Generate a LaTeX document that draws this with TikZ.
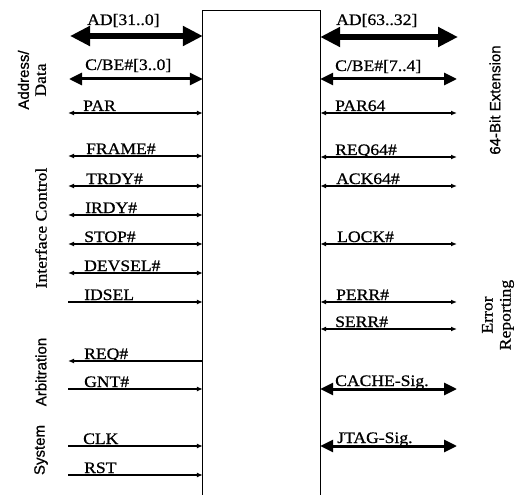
\documentclass[tikz,border=0pt]{standalone}
\usepackage{fontspec}
\setmainfont{Liberation Serif}
\newfontfamily\sigfont[FakeStretch=1.1,FakeBold=0.8]{Liberation Serif}
\newfontfamily\grpsans[FakeBold=0.8]{Liberation Sans}
\usetikzlibrary{arrows.meta}
\begin{document}
\begin{tikzpicture}[x=1pt,y=-1pt,
  smalltip/.tip={Latex[length=6pt,width=5pt]},
  midtip/.tip={Triangle[length=13pt,width=12pt]},
  bigtip/.tip={Triangle[length=20pt,width=19pt]},
  sigboth/.style={line width=1.4pt,{smalltip}-{smalltip}},
  sigone/.style={line width=1.4pt,-{smalltip}},
  midboth/.style={line width=3pt,{midtip}-{midtip}},
  bigboth/.style={line width=5.5pt,{bigtip}-{bigtip}},
  lbl/.style={anchor=base west,inner sep=0pt,font=\sigfont\fontsize{16}{16}\selectfont},
  grp/.style={rotate=90,align=center,inner sep=0pt,font=\fontsize{16}{17}\selectfont},
  grpserif/.style={grp,font=\sigfont\fontsize{16}{18}\selectfont},
  grpsans/.style={grp,font=\grpsans\fontsize{15}{17}\selectfont},
  chip/.style={line width=1.2pt}
]
\useasboundingbox (0,0) rectangle (531,495);
% central block
\node[minimum width=117pt,minimum height=484pt,inner sep=0pt] (box) at (261.5,253) {};
\draw[chip] (box.south west) -- (box.north west) -- (box.north east) -- (box.south east);

% ---------- left side ----------
\coordinate (lAD) at (70,36);
\coordinate (lCBE) at (69,79);
\coordinate (lPAR) at (68,113);
\coordinate (lFRAME) at (68,156);
\coordinate (lTRDY) at (68,186);
\coordinate (lIRDY) at (68,215);
\coordinate (lSTOP) at (68,244);
\coordinate (lDEVSEL) at (68,273);
\coordinate (lIDSEL) at (68,302);
\coordinate (lREQ) at (68,361);
\coordinate (lGNT) at (68,389);
\coordinate (lCLK) at (68,446);
\coordinate (lRST) at (68,475);

\draw[bigboth] (lAD) -- (lAD -| box.west);
\draw[midboth] (lCBE) -- (lCBE -| box.west);
\draw[sigboth] (lPAR) -- (lPAR -| box.west);
\draw[sigboth] (lFRAME) -- (lFRAME -| box.west);
\draw[sigboth] (lTRDY) -- (lTRDY -| box.west);
\draw[sigboth] (lIRDY) -- (lIRDY -| box.west);
\draw[sigboth] (lSTOP) -- (lSTOP -| box.west);
\draw[sigboth] (lDEVSEL) -- (lDEVSEL -| box.west);
\draw[sigone] (lIDSEL) -- (lIDSEL -| box.west);
\draw[sigone] (lREQ -| box.west) -- (lREQ);
\draw[sigone] (lGNT) -- (lGNT -| box.west);
\draw[sigone] (lCLK) -- (lCLK -| box.west);
\draw[sigone] (lRST) -- (lRST -| box.west);

\node[lbl] (tAD) at (87,25) {AD[31..0]};
\node[lbl] (tCBE) at (85,70) {C/BE\#[3..0]};
\node[lbl] (tPAR) at (83,111) {PAR};
\node[lbl] (tFRAME) at (86,154) {FRAME\#};
\node[lbl] (tTRDY) at (86,184) {TRDY\#};
\node[lbl] (tIRDY) at (85,213) {IRDY\#};
\node[lbl] (tSTOP) at (84,242) {STOP\#};
\node[lbl] (tDEVSEL) at (84,271) {DEVSEL\#};
\node[lbl] (tIDSEL) at (84,300) {IDSEL};
\node[lbl] (tREQ) at (84,359) {REQ\#};
\node[lbl] (tGNT) at (84,387) {GNT\#};
\node[lbl] (tCLK) at (83,444) {CLK};
\node[lbl] (tRST) at (84,473) {RST};

% ---------- right side ----------
\coordinate (rAD) at (458,37);
\coordinate (rCBE) at (457,79);
\coordinate (rPAR) at (457,113);
\coordinate (rREQ) at (457,157);
\coordinate (rACK) at (457,186);
\coordinate (rLOCK) at (457,244);
\coordinate (rPERR) at (457,302);
\coordinate (rSERR) at (457,329);
\coordinate (rCACHE) at (457,389);
\coordinate (rJTAG) at (457,446);

\draw[bigboth] (rAD -| box.east) -- (rAD);
\draw[midboth] (rCBE -| box.east) -- (rCBE);
\draw[sigboth] (rPAR -| box.east) -- (rPAR);
\draw[sigboth] (rREQ -| box.east) -- (rREQ);
\draw[sigboth] (rACK -| box.east) -- (rACK);
\draw[sigboth] (rLOCK -| box.east) -- (rLOCK);
\draw[sigboth] (rPERR -| box.east) -- (rPERR);
\draw[sigboth] (rSERR -| box.east) -- (rSERR);
\draw[midboth] (rCACHE -| box.east) -- (rCACHE);
\draw[midboth] (rJTAG -| box.east) -- (rJTAG);

\node[lbl] (tAD2) at (336,25) {AD[63..32]};
\node[lbl] (tCBE2) at (335,71) {C/BE\#[7..4]};
\node[lbl] (tPAR2) at (335,111) {PAR64};
\node[lbl] (tREQ2) at (335,155) {REQ64\#};
\node[lbl] (tACK2) at (336,184) {ACK64\#};
\node[lbl] (tLOCK2) at (337,242) {LOCK\#};
\node[lbl] (tPERR2) at (336,300) {PERR\#};
\node[lbl] (tSERR2) at (335,327) {SERR\#};
\node[lbl] (tCACHE2) at (335,386) {CACHE-Sig.};
\node[lbl] (tJTAG2) at (337,443) {JTAG-Sig.};

% ---------- group labels ----------
\node[grp] (gAD) at (32,80) {{\grpsans\fontsize{15}{17}\selectfont Address/}\\{\sigfont Data}};
\node[grpserif] (gIF) at (41,228) {Interface Control};
\node[grpsans] (gARB) at (41,372) {Arbitration};
\node[grpsans] (gSYS) at (41,450) {System};
\node[grpsans] (g64) at (495,100) {64-Bit Extension};
\node[grpserif] (gERR) at (498,315) {Error\\Reporting};
\end{tikzpicture}
\end{document}
